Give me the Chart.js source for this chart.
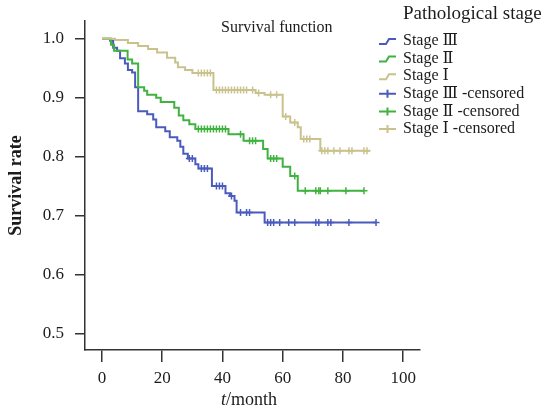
<!DOCTYPE html>
<html>
<head>
<meta charset="utf-8">
<script src="https://cdn.jsdelivr.net/npm/chart.js@4"></script>
<style>
  body { margin: 0; background: #fff; }
  #wrap { width: 543px; height: 408px; position: relative; }
</style>
</head>
<body>
<div id="wrap"><canvas id="chart"></canvas></div>
<script>
// Kaplan-Meier steps (time in months, survival rate)
var stage3Times = [0, 2.7, 3.7, 5, 6, 7.6, 8.6, 10, 11, 12, 15, 17, 18, 21, 22.5, 25, 26, 27, 28.5, 31, 32, 36.5, 41, 42.5, 44, 44.7, 54, 91];
var stage3Surv  = [1.0, 0.997, 0.985, 0.98, 0.967, 0.958, 0.947, 0.943, 0.918, 0.877, 0.872, 0.863, 0.85, 0.843, 0.833, 0.827, 0.817, 0.805, 0.797, 0.787, 0.78, 0.75, 0.738, 0.733, 0.725, 0.705, 0.688, 0.688];
var stage3Censor = [29, 30, 33, 34, 35, 38, 39, 40, 43, 46, 48, 49, 55, 56, 57, 59, 62, 64, 71, 72, 75, 76, 82, 91];

var stage2Times = [0, 3, 4, 8.5, 10, 12, 14, 15, 18, 19.5, 24, 25.5, 27, 29, 31, 42, 47, 53.5, 55, 60, 62.5, 65, 87];
var stage2Surv  = [1.0, 0.99, 0.98, 0.965, 0.958, 0.918, 0.912, 0.905, 0.9, 0.893, 0.883, 0.87, 0.862, 0.855, 0.847, 0.838, 0.827, 0.813, 0.797, 0.783, 0.767, 0.742, 0.742];
var stage2Censor = [32, 33, 34, 35, 36, 37, 38, 39, 40, 41, 46, 49, 50, 51, 56, 57, 58, 64, 67.5, 71, 72, 72.5, 75, 81, 87];

var stage1Times = [0, 4.3, 8.6, 12, 15.3, 18.3, 21.6, 24.3, 25.2, 27.6, 30, 37, 51, 54, 60, 62.5, 65, 66, 72.5, 89];
var stage1Surv  = [1.0, 0.998, 0.993, 0.988, 0.983, 0.977, 0.968, 0.96, 0.952, 0.947, 0.942, 0.913, 0.908, 0.905, 0.868, 0.858, 0.85, 0.83, 0.81, 0.81];
var stage1Censor = [32, 33, 34, 35, 36, 38, 39, 40, 41, 42, 43, 44, 45, 46, 47, 48, 50, 52, 56, 58, 61, 64, 67, 68, 69, 73, 74, 75, 77, 79, 82, 83, 87, 88];

var xTicks = [0, 20, 40, 60, 80, 100];
var yTicks = [0.5, 0.6, 0.7, 0.8, 0.9, 1.0];
var legendLabels = ['Stage Ⅲ', 'Stage Ⅱ', 'Stage Ⅰ', 'Stage Ⅲ -censored', 'Stage Ⅱ -censored', 'Stage Ⅰ -censored'];

var blue = '#4a5bbd';
var green = '#3fb23f';
var tan = '#c9c28c';
var ink = '#1c1c1c';
var serif = "'Liberation Serif', 'DejaVu Serif', serif";

function points(times, surv) {
  return times.map(function (t, i) { return { x: t, y: surv[i] }; });
}

// survival value at a censor time = value of the step curve there
function censorPoints(censor, times, surv) {
  return censor.map(function (t) {
    var v = surv[0];
    for (var i = 0; i < times.length; i++) {
      if (times[i] <= t) v = surv[i];
    }
    return { x: t, y: v };
  });
}

function stepSet(label, times, surv, color, order) {
  return {
    type: 'line', label: label, data: points(times, surv),
    borderColor: color, backgroundColor: color, borderWidth: 2,
    stepped: true, pointRadius: 0, fill: false, order: order
  };
}

function censorSet(label, censor, times, surv, color, order) {
  return {
    type: 'scatter', label: label, data: censorPoints(censor, times, surv),
    borderColor: color, backgroundColor: color, borderWidth: 1.5,
    pointStyle: 'cross', pointRadius: 3.5, showLine: false, order: order
  };
}

var colors = [blue, green, tan, blue, green, tan];

var overlay = {
  id: 'overlay',
  afterDraw: function (chart) {
    var ctx = chart.ctx;
    ctx.save();
    ctx.fillStyle = ink;
    ctx.textBaseline = 'middle';
    ctx.textAlign = 'left';

    ctx.font = '16px ' + serif;
    ctx.fillText('Survival function', 221, 28);

    ctx.font = '19px ' + serif;
    ctx.fillText('Pathological stage', 403, 14);

    ctx.font = '16px ' + serif;
    legendLabels.forEach(function (label, i) {
      var y = 41 + 17.6 * i;
      ctx.strokeStyle = colors[i];
      ctx.lineWidth = 2;
      ctx.beginPath();
      if (i < 3) {
        ctx.moveTo(379, y + 3);
        ctx.lineTo(386, y + 3);
        ctx.lineTo(389, y - 2);
        ctx.lineTo(396, y - 2);
      } else {
        ctx.moveTo(379, y);
        ctx.lineTo(396, y);
        ctx.moveTo(387.5, y - 4);
        ctx.lineTo(387.5, y + 4);
      }
      ctx.stroke();
      ctx.fillStyle = ink;
      ctx.fillText(label, 403, y);
    });

    // x axis title with italic t
    ctx.font = 'italic 18px ' + serif;
    var wT = ctx.measureText('t').width;
    ctx.font = '18px ' + serif;
    var wM = ctx.measureText('/month').width;
    var x0 = 249 - (wT + wM) / 2;
    ctx.font = 'italic 18px ' + serif;
    ctx.fillText('t', x0, 400);
    ctx.font = '18px ' + serif;
    ctx.fillText('/month', x0 + wT, 400);
    ctx.restore();
  }
};

new Chart(document.getElementById('chart'), {
  type: 'line',
  data: {
    datasets: [
      stepSet(legendLabels[2], stage1Times, stage1Surv, tan, 1),
      stepSet(legendLabels[1], stage2Times, stage2Surv, green, 2),
      stepSet(legendLabels[0], stage3Times, stage3Surv, blue, 3),
      censorSet(legendLabels[5], stage1Censor, stage1Times, stage1Surv, tan, 1),
      censorSet(legendLabels[4], stage2Censor, stage2Times, stage2Surv, green, 2),
      censorSet(legendLabels[3], stage3Censor, stage3Times, stage3Surv, blue, 3)
    ]
  },
  options: {
    responsive: true,
    maintainAspectRatio: false,
    animation: false,
    layout: { padding: { top: 15, right: 123, left: 0, bottom: 0 } },
    plugins: { legend: { display: false }, tooltip: { enabled: false } },
    scales: {
      x: {
        type: 'linear', min: -5.65, max: 105.6,
        afterFit: function (s) { s.height = 58; },
        afterBuildTicks: function (s) { s.ticks = xTicks.map(function (v) { return { value: v }; }); },
        grid: { drawOnChartArea: false, drawTicks: true, tickLength: 12, color: '#333', lineWidth: 1.5 },
        border: { color: '#333', width: 1.5 },
        ticks: { color: ink, padding: 6, font: { family: serif, size: 17 }, maxRotation: 0,
          callback: function (v) { return String(v); } }
      },
      y: {
        type: 'linear', min: 0.4717, max: 1.03,
        afterFit: function (s) { s.width = 85; },
        afterBuildTicks: function (s) { s.ticks = yTicks.map(function (v) { return { value: v }; }); },
        grid: { drawOnChartArea: false, drawTicks: true, tickLength: 10, color: '#333', lineWidth: 1.5 },
        border: { color: '#333', width: 1.5 },
        ticks: { color: ink, padding: 11, font: { family: serif, size: 17 },
          callback: function (v) { return v.toFixed(1); } },
        title: { display: true, text: 'Survival rate', color: ink,
          font: { family: serif, size: 18, weight: 'bold' }, padding: { top: 6, bottom: 4 } }
      }
    }
  },
  plugins: [overlay]
});
</script>
</body>
</html>
